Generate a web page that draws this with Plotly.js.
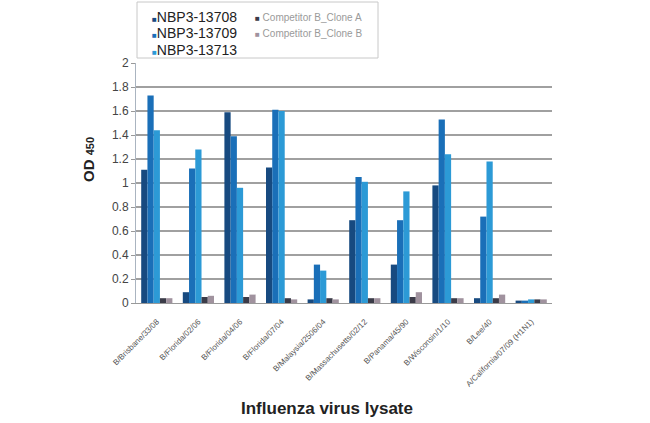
<!DOCTYPE html>
<html>
<head>
<meta charset="utf-8">
<script src="https://cdn.plot.ly/plotly-3.0.1.min.js"></script>
<style>html,body{margin:0;padding:0;background:#fff;}#chart{width:650px;height:423px;}</style>
</head>
<body>
<div id="chart"></div>
<script>
var categories = ["B/Brisbane/33/08", "B/Florida/02/06", "B/Florida/04/06", "B/Florida/07/04",
  "B/Malaysia/2506/04", "B/Massachusetts/02/12", "B/Panama/45/90", "B/Wisconsin/1/10",
  "B/Lee/40", "A/California/07/09 (H1N1)"];
var seriesNames = ["NBP3-13708", "NBP3-13709", "NBP3-13713", "Competitor B_Clone A", "Competitor B_Clone B"];
var nbp13708 = [1.11, 0.09, 1.59, 1.13, 0.03, 0.69, 0.32, 0.98, 0.04, 0.02];
var nbp13709 = [1.73, 1.12, 1.39, 1.61, 0.32, 1.05, 0.69, 1.53, 0.72, 0.02];
var nbp13713 = [1.44, 1.28, 0.96, 1.60, 0.27, 1.01, 0.93, 1.24, 1.18, 0.03];
var compA = [0.04, 0.05, 0.05, 0.04, 0.04, 0.04, 0.05, 0.04, 0.04, 0.03];
var compB = [0.04, 0.06, 0.07, 0.03, 0.03, 0.04, 0.09, 0.04, 0.07, 0.03];
var yTicks = [0, 0.2, 0.4, 0.6, 0.8, 1, 1.2, 1.4, 1.6, 1.8, 2];

var colors = ["#174a80", "#1a6fb8", "#2c9ad6", "#3b3b48", "#a0929e"];
var values = [nbp13708, nbp13709, nbp13713, compA, compB];

var traces = values.map(function (v, i) {
  return {type: "bar", x: categories, y: v, name: seriesNames[i],
    marker: {color: colors[i]}, showlegend: false};
});

// plot area in pixels: x 136..552, y 63..303
var L = 136, W = 416, T = 63, H = 240;
function px(x) { return (x - L) / W; }
function py(y) { return (T + H - y) / H; }

var annotations = [];
// legend entries
var legendPos = [[150, 17], [150, 33], [150, 50], [253, 17], [253, 33]];
seriesNames.forEach(function (n, i) {
  var big = i < 3;
  annotations.push({
    xref: "paper", yref: "paper", x: px(legendPos[i][0]), y: py(legendPos[i][1]),
    xanchor: "left", yanchor: "middle", showarrow: false,
    text: "<span style='color:" + colors[i] + ";font-size:" + (big ? 8 : 8) + "px'>■</span>" +
      (big ? "" : " ") + n,
    font: {size: big ? 14 : 10, color: big ? "#222" : "#9a9a9a"}
  });
});
// axis titles
annotations.push({xref: "paper", yref: "paper", x: px(327), y: py(408), xanchor: "center", yanchor: "middle",
  showarrow: false, text: "<b>Influenza virus lysate</b>", font: {size: 17, color: "#222"}});
annotations.push({xref: "paper", yref: "paper", x: px(88), y: py(160), xanchor: "center", yanchor: "middle",
  showarrow: false, textangle: -90, text: "<b>OD <span style='font-size:11px'>450</span></b>",
  font: {size: 15, color: "#222"}});

var layout = {
  width: 650, height: 423,
  margin: {l: L, r: 650 - L - W, t: T, b: 423 - T - H},
  paper_bgcolor: "#fff", plot_bgcolor: "#fff",
  font: {family: "Liberation Sans, Arial, sans-serif", color: "#333"},
  barmode: "group", bargap: 0.25, bargroupgap: 0,
  showlegend: false,
  xaxis: {
    type: "category", tickangle: -45, tickfont: {size: 8, color: "#555"}, ticklabelstandoff: 10,
    showline: true, linecolor: "#999", linewidth: 1, ticks: "", automargin: false
  },
  yaxis: {
    range: [0, 2], tickvals: yTicks, ticktext: yTicks.map(String),
    tickfont: {size: 12, color: "#444"}, showgrid: true, gridcolor: "#a0a0a0", gridwidth: 1.2,
    showline: true, linecolor: "#aab4c0", linewidth: 1, ticks: "outside", ticklen: 4, tickcolor: "#999",
    zeroline: false, automargin: false
  },
  annotations: annotations,
  shapes: [{type: "rect", xref: "paper", yref: "paper", x0: px(137), x1: px(378), y0: py(58), y1: py(2),
    line: {color: "#c8c8c8", width: 1}, fillcolor: "rgba(0,0,0,0)", layer: "above"}]
};

Plotly.newPlot("chart", traces, layout, {displayModeBar: false, staticPlot: true});
</script>
</body>
</html>
